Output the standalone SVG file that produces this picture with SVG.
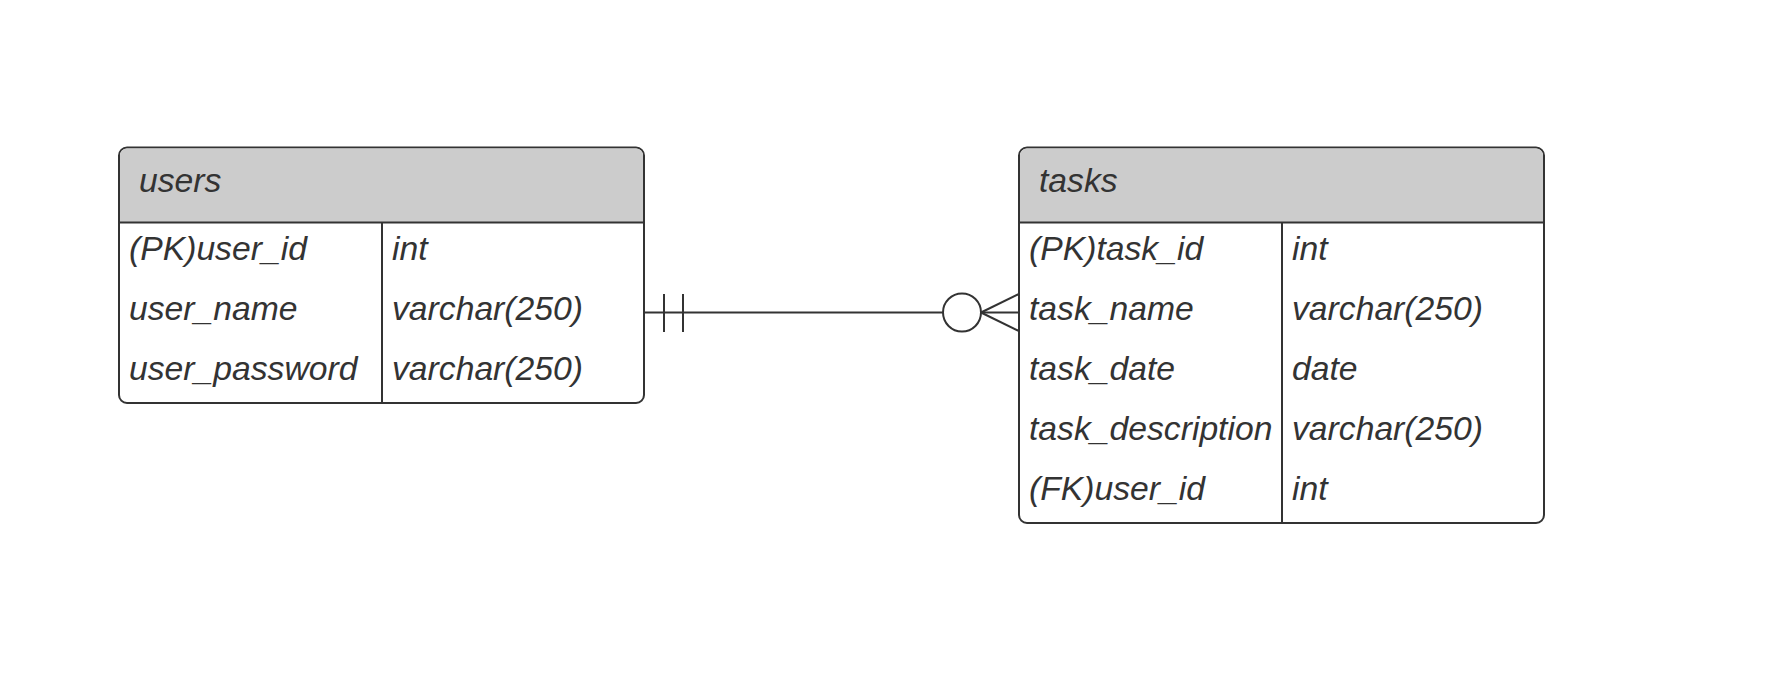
<svg xmlns="http://www.w3.org/2000/svg" width="1770" height="694" viewBox="0 0 1770 694">
<style>
.box{fill:#ffffff;stroke:#333333;stroke-width:2}
.hdr{fill:#cccccc}
.ln{stroke:#333333;stroke-width:2;fill:none}
.t{font-family:"Liberation Sans",Arial,sans-serif;font-style:italic;font-size:33.7px;fill:#333333}
</style>
<rect width="1770" height="694" fill="#ffffff"/>
<g id="users">
<rect class="box" x="119" y="147.5" width="525" height="255.5" rx="8"/>
<path class="hdr" d="M120 222 V155.5 A7 7 0 0 1 127 148.5 H636 A7 7 0 0 1 643 155.5 V222 Z"/>
<line class="ln" x1="119" y1="222.5" x2="644" y2="222.5"/>
<line class="ln" x1="382" y1="222.5" x2="382" y2="403"/>
<text class="t" x="139" y="192">users</text>
<text class="t" x="129" y="260">(PK)user_id</text>
<text class="t" x="392" y="260">int</text>
<text class="t" x="129" y="320">user_name</text>
<text class="t" x="392" y="320">varchar(250)</text>
<text class="t" x="129" y="380">user_password</text>
<text class="t" x="392" y="380">varchar(250)</text>
</g>
<g id="tasks">
<rect class="box" x="1019" y="147.5" width="525" height="375.5" rx="8"/>
<path class="hdr" d="M1020 222 V155.5 A7 7 0 0 1 1027 148.5 H1536 A7 7 0 0 1 1543 155.5 V222 Z"/>
<line class="ln" x1="1019" y1="222.5" x2="1544" y2="222.5"/>
<line class="ln" x1="1282" y1="222.5" x2="1282" y2="523"/>
<text class="t" x="1039" y="192">tasks</text>
<text class="t" x="1029" y="260">(PK)task_id</text>
<text class="t" x="1292" y="260">int</text>
<text class="t" x="1029" y="320">task_name</text>
<text class="t" x="1292" y="320">varchar(250)</text>
<text class="t" x="1029" y="380">task_date</text>
<text class="t" x="1292" y="380">date</text>
<text class="t" x="1029" y="440">task_description</text>
<text class="t" x="1292" y="440">varchar(250)</text>
<text class="t" x="1029" y="500">(FK)user_id</text>
<text class="t" x="1292" y="500">int</text>
</g>
<g id="connectors">
<line class="ln" x1="644" y1="312.5" x2="943" y2="312.5"/>
<line class="ln" x1="664" y1="294" x2="664" y2="332"/>
<line class="ln" x1="683" y1="294" x2="683" y2="332"/>
<circle class="ln" cx="962" cy="312.5" r="19"/>
<line class="ln" x1="981" y1="312.5" x2="1019" y2="294"/>
<line class="ln" x1="981" y1="312.5" x2="1019" y2="312.5"/>
<line class="ln" x1="981" y1="312.5" x2="1019" y2="331"/>
</g>
</svg>
